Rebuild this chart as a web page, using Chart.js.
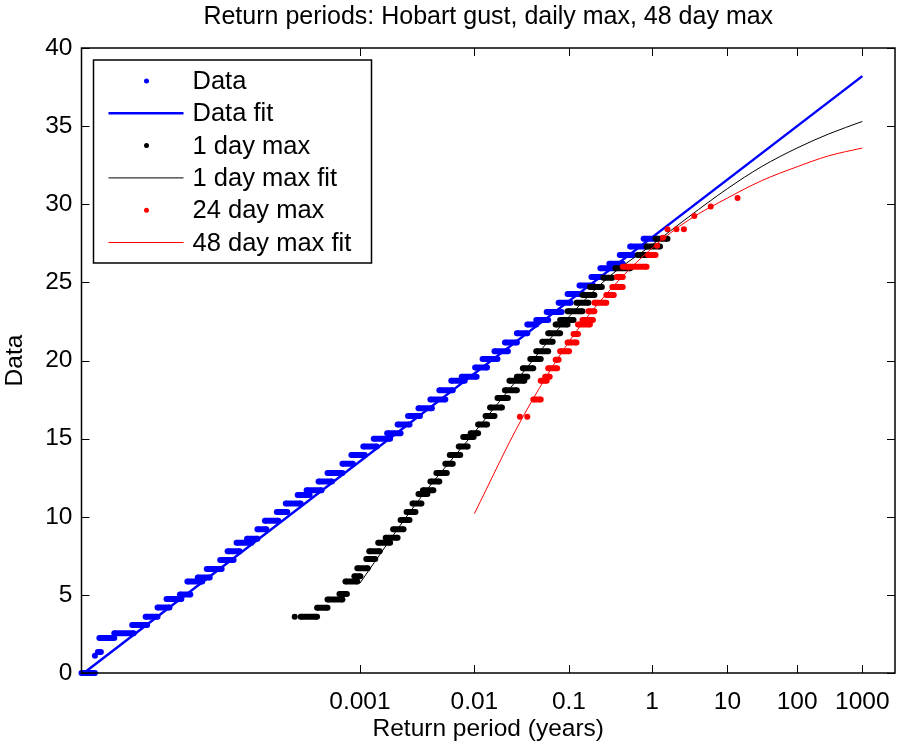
<!DOCTYPE html>
<html>
<head>
<meta charset="utf-8">
<script src="https://cdn.jsdelivr.net/npm/chart.js@4/dist/chart.umd.min.js"></script>
<style>
  html, body { margin: 0; background: #fff; }
</style>
</head>
<body>
<canvas id="chart" width="900" height="747"></canvas>
<script>
// ====== DATA ======
const titleText = 'Return periods: Hobart gust, daily max, 48 day max';

// x axis is a reduced-variate axis; return periods (years) map onto it with zOf()
const xTickYears = [0.001, 0.01, 0.1, 1, 10, 100, 1000];
const xTickLabels = ['0.001', '0.01', '0.1', '1', '10', '100', '1000'];

// Data: each step = one gust level, spread over a range of plotting positions
const dataLevel = [0, 1.1, 1.35, 2.24, 2.54, 3.07, 3.6, 4.2, 4.74, 5.03, 5.85, 6.12, 6.66, 7.23, 7.8, 8.34, 8.6, 9.2,
    9.75, 10.3, 10.85, 11.4, 11.7, 12.25, 12.8, 13.4, 13.95, 14.5, 15.0, 15.35, 15.9, 16.45, 16.95, 17.5, 18.1, 18.7,
    18.96, 19.55, 20.1, 20.6, 21.15, 21.75, 22.3, 22.6, 23.1, 23.7, 24.25, 24.8, 25.35, 25.9, 26.2, 26.75, 27.3, 27.8];
const dataFrom = [0.00, 0.09, 0.11, 0.12, 0.22, 0.34, 0.43, 0.51, 0.57, 0.66, 0.71, 0.78, 0.84, 0.93, 0.98, 1.04, 1.11, 1.18,
    1.23, 1.31, 1.37, 1.45, 1.51, 1.59, 1.65, 1.75, 1.81, 1.89, 1.96, 2.05, 2.12, 2.19, 2.26, 2.34, 2.40, 2.48,
    2.55, 2.64, 2.69, 2.77, 2.84, 2.92, 2.99, 3.05, 3.12, 3.20, 3.26, 3.34, 3.42, 3.48, 3.54, 3.61, 3.68, 3.77];
const dataTo = [0.09, 0.09, 0.13, 0.22, 0.35, 0.44, 0.51, 0.59, 0.67, 0.73, 0.81, 0.86, 0.94, 1.02, 1.06, 1.14, 1.18, 1.24,
    1.32, 1.38, 1.47, 1.53, 1.61, 1.68, 1.75, 1.82, 1.90, 1.98, 2.07, 2.14, 2.20, 2.27, 2.35, 2.44, 2.49, 2.57,
    2.65, 2.72, 2.79, 2.86, 2.92, 2.99, 3.05, 3.13, 3.22, 3.28, 3.36, 3.43, 3.50, 3.58, 3.63, 3.70, 3.78, 3.86];

// 1 day max
const day1Level = [3.6, 3.6, 4.18, 4.7, 5.05, 5.85, 6.2, 6.7, 7.3, 7.8, 8.34, 8.66, 9.2, 9.8, 10.3, 10.85, 11.45, 11.7,
    12.25, 12.8, 13.4, 13.95, 14.5, 15.1, 15.35, 15.9, 16.45, 17.0, 17.6, 18.1, 18.7, 18.96, 19.5, 20.1, 20.6, 21.2,
    21.75, 22.3, 22.6, 23.15, 23.7, 24.2, 24.7, 25.3, 25.9, 26.75, 27.3, 27.8];
const day1From = [1.43, 1.47, 1.58, 1.65, 1.73, 1.77, 1.83, 1.85, 1.91, 1.93, 1.99, 2.04, 2.09, 2.14, 2.18, 2.22, 2.26, 2.29,
    2.34, 2.38, 2.44, 2.47, 2.53, 2.56, 2.61, 2.66, 2.71, 2.74, 2.79, 2.84, 2.87, 2.92, 2.96, 3.01, 3.05, 3.09,
    3.13, 3.18, 3.21, 3.26, 3.32, 3.36, 3.41, 3.50, 3.58, 3.73, 3.79, 3.85];
const day1To = [1.43, 1.58, 1.65, 1.75, 1.78, 1.85, 1.87, 1.92, 1.97, 2.00, 2.07, 2.12, 2.16, 2.20, 2.24, 2.28, 2.32, 2.36,
    2.40, 2.45, 2.49, 2.54, 2.59, 2.63, 2.66, 2.72, 2.77, 2.82, 2.86, 2.92, 2.97, 2.99, 3.03, 3.08, 3.13, 3.16,
    3.21, 3.26, 3.30, 3.36, 3.40, 3.44, 3.49, 3.56, 3.68, 3.81, 3.88, 3.93];

// 24 day max
const day24Level = [16.4, 16.4, 17.5, 18.7, 18.96, 19.5, 20.05, 20.6, 21.15, 21.7, 22.3, 22.6, 23.15, 23.7, 24.2,
    24.7, 25.35, 26.0, 26.75, 27.35, 27.85, 28.4, 28.4, 28.4, 29.25, 29.85, 30.4];
const day24From = [2.94, 2.99, 3.03, 3.08, 3.11, 3.13, 3.18, 3.21, 3.26, 3.30, 3.33, 3.36, 3.40, 3.44, 3.52,
    3.56, 3.59, 3.63, 3.80, 3.86, 3.90, 3.93, 3.99, 4.04, 4.11, 4.22, 4.40];
const day24To = [2.94, 2.99, 3.08, 3.12, 3.14, 3.19, 3.20, 3.27, 3.32, 3.33, 3.41, 3.43, 3.44, 3.52, 3.57,
    3.63, 3.63, 3.79, 3.85, 3.86, 3.90, 3.93, 3.99, 4.04, 4.11, 4.22, 4.40];

// fits, by return period (years)
const dataFitYears = [0.0000555, 1000];
const dataFitValues = [0, 38.2];
const day1FitYears = [0.001, 0.003, 0.01, 0.03, 0.1, 0.3, 1, 3, 10, 30, 100, 300, 1000];
const day1FitValues = [5.75, 11.0, 15.4, 19.1, 22.8, 25.4, 27.4, 29.2, 31.0, 32.4, 33.6, 34.5, 35.3];
const day48FitYears = [0.01, 0.03, 0.1, 0.3, 1, 3, 10, 30, 100, 300, 1000];
const day48FitValues = [10.2, 16.2, 21.2, 24.5, 27.2, 29.0, 30.4, 31.5, 32.4, 33.1, 33.6];

// ====== HELPERS ======
function zOf(T) {
    return Math.pow(Math.log(T) + 9.8, 0.588);
}

function steps(levels, from, to) {
    const pts = [];
    levels.forEach((v, i) => {
        pts.push({ x: from[i], y: v });
        if (to[i] !== from[i]) pts.push({ x: to[i], y: v });
        pts.push({ x: to[i], y: null });
    });
    return pts;
}

function fitLine(years, values) {
    return years.map((t, i) => ({ x: zOf(t), y: values[i] }));
}

const FONT = 'Liberation Sans, Arial, Helvetica, sans-serif';

function dots(label, color, pts, order) {
    return {
        label, data: pts, order,
        borderColor: color, backgroundColor: color,
        borderWidth: 6, borderCapStyle: 'butt',
        pointRadius: 3, pointBorderWidth: 0, pointBackgroundColor: color,
        spanGaps: false, clip: false, legendType: 'dot'
    };
}

function line(label, color, width, pts, order) {
    return {
        label, data: pts, order,
        borderColor: color, backgroundColor: color,
        borderWidth: width, pointRadius: 0, tension: 0.4, cubicInterpolationMode: 'monotone',
        legendType: 'line'
    };
}

// ====== PLUGINS ======
// MATLAB style box with inward ticks on all four sides
const boxTicks = {
    id: 'boxTicks',
    afterDatasetsDraw(chart) {
        const { ctx, chartArea: a, scales: { x, y } } = chart;
        const len = 8;
        ctx.save();
        ctx.strokeStyle = '#000';
        ctx.lineWidth = 1;
        ctx.beginPath();
        x.ticks.forEach(t => {
            const px = Math.round(x.getPixelForValue(t.value)) + 0.5;
            ctx.moveTo(px, a.bottom); ctx.lineTo(px, a.bottom - len);
            ctx.moveTo(px, a.top); ctx.lineTo(px, a.top + len);
        });
        y.ticks.forEach(t => {
            const py = Math.round(y.getPixelForValue(t.value)) + 0.5;
            ctx.moveTo(a.left, py); ctx.lineTo(a.left + len, py);
            ctx.moveTo(a.right, py); ctx.lineTo(a.right - len, py);
        });
        ctx.stroke();
        ctx.lineWidth = 1.5;
        ctx.strokeRect(a.left, a.top, a.right - a.left, a.bottom - a.top);
        ctx.restore();
    }
};

// legend box in the upper-left corner of the axes
const boxLegend = {
    id: 'boxLegend',
    afterDraw(chart) {
        const { ctx, chartArea: a } = chart;
        const left = a.left + 12, top = a.top + 12, w = 278, h = 203;
        const rowH = 32.3;
        ctx.save();
        ctx.fillStyle = '#fff';
        ctx.fillRect(left, top, w, h);
        ctx.strokeStyle = '#000';
        ctx.lineWidth = 1.5;
        ctx.strokeRect(left, top, w, h);
        ctx.font = '25.5px ' + FONT;
        ctx.textBaseline = 'middle';
        chart.data.datasets.forEach((ds, i) => {
            const cy = top + 21 + i * rowH;
            if (ds.legendType === 'dot') {
                ctx.fillStyle = ds.borderColor;
                ctx.beginPath();
                ctx.arc(left + 53, cy, 2.5, 0, Math.PI * 2);
                ctx.fill();
            } else {
                ctx.strokeStyle = ds.borderColor;
                ctx.lineWidth = ds.borderWidth;
                ctx.beginPath();
                ctx.moveTo(left + 15, cy); ctx.lineTo(left + 90, cy);
                ctx.stroke();
            }
            ctx.fillStyle = '#000';
            ctx.fillText(ds.label, left + 99, cy + 1);
        });
        ctx.restore();
    }
};

// ====== CHART ======
new Chart(document.getElementById('chart'), {
    type: 'line',
    data: {
        datasets: [
            dots('Data', '#0000ff', steps(dataLevel, dataFrom, dataTo), 6),
            line('Data fit', '#0000ff', 2.5, fitLine(dataFitYears, dataFitValues), 5),
            dots('1 day max', '#000000', steps(day1Level, day1From, day1To), 4),
            line('1 day max fit', '#000000', 1, fitLine(day1FitYears, day1FitValues), 3),
            dots('24 day max', '#ff0000', steps(day24Level, day24From, day24To), 2),
            line('48 day max fit', '#ff0000', 1, fitLine(day48FitYears, day48FitValues), 1)
        ]
    },
    options: {
        responsive: false,
        animation: false,
        devicePixelRatio: 1,
        layout: { padding: { left: 0, right: 5, top: 0, bottom: 0 } },
        plugins: {
            legend: { display: false },
            tooltip: { enabled: false },
            title: {
                display: true, text: titleText, fullSize: false, color: '#000',
                font: { family: FONT, size: 25, weight: 'normal' },
                padding: { top: 2, bottom: 16 }
            }
        },
        scales: {
            x: {
                type: 'linear', min: 0, max: 5.456,
                grid: { display: false, drawTicks: false },
                border: { display: false },
                afterBuildTicks: ax => { ax.ticks = xTickYears.map(t => ({ value: zOf(t) })); },
                afterFit: ax => { ax.height = 74; ax.paddingLeft = 0; ax.paddingRight = 0; },
                ticks: {
                    autoSkip: false, maxRotation: 0, padding: 15, color: '#000',
                    font: { family: FONT, size: 24.5 },
                    callback: (v, i) => xTickLabels[i]
                },
                title: {
                    display: true, text: 'Return period (years)', color: '#000',
                    font: { family: FONT, size: 24.5 }, padding: { top: 0, bottom: 3 }
                }
            },
            y: {
                type: 'linear', min: 0, max: 40,
                grid: { display: false, drawTicks: false },
                border: { display: false },
                afterFit: ax => { ax.width = 81.5; ax.paddingTop = 0; ax.paddingBottom = 0; },
                ticks: { stepSize: 5, padding: 9, color: '#000', font: { family: FONT, size: 24.5 } },
                title: {
                    display: true, text: 'Data', color: '#000',
                    font: { family: FONT, size: 24.5 }, padding: { top: 1, bottom: 0 }
                }
            }
        }
    },
    plugins: [boxTicks, boxLegend]
});
</script>
</body>
</html>
